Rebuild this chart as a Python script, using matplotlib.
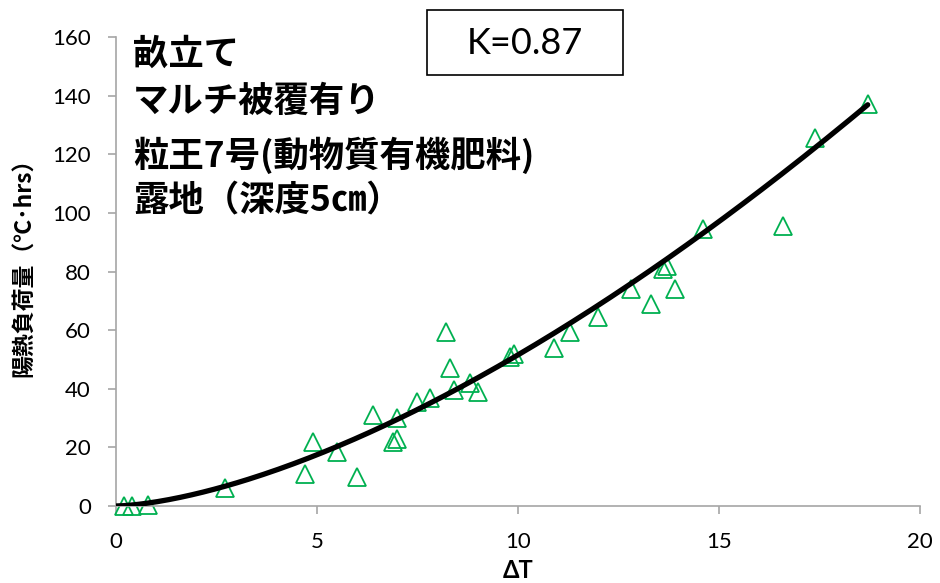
import numpy as np
import matplotlib
matplotlib.use("Agg")
import matplotlib.pyplot as plt
from matplotlib.patches import Rectangle

plt.rcParams['font.family'] = ['Lato', 'Noto Sans CJK JP', 'DejaVu Sans']

# Data
delta_t = [0.2, 0.4, 0.8, 2.7, 4.7, 4.9, 5.5, 6.0, 6.4, 6.9, 7.0, 7.0,
           7.5, 7.8, 8.2, 8.3, 8.4, 8.8, 9.0, 9.8, 9.9, 10.9, 11.3, 12.0,
           12.8, 13.3, 13.6, 13.7, 13.9, 14.6, 16.6, 17.4, 18.7]
heat_load = [0, 0, 0.3, 6, 11, 22, 18.5, 10, 31, 22, 23, 30,
             35.5, 37, 59.5, 47, 39.5, 42, 39, 51, 52, 54, 59.5, 64.5,
             74, 69, 81, 82, 74, 94.5, 95.5, 125.5, 137]

# trendline (power curve)
fit_coef = 1.42
fit_exp = 1.56
fit_x_max = 18.7

x_ticks = [0, 5, 10, 15, 20]
y_ticks = [0, 20, 40, 60, 80, 100, 120, 140, 160]

condition_lines = ["畝立て", "マルチ被覆有り", "粒王7号(動物質有機肥料)", "露地（深度5㎝）"]
k_label = "K=0.87"

fig = plt.figure(figsize=(9.4, 5.83), dpi=100)
ax = fig.add_axes([0.1234, 0.1321, 0.8553, 0.8044])

xs = np.linspace(0, fit_x_max, 200)
ax.plot(xs, fit_coef * xs ** fit_exp, color="black", linewidth=3.8,
        solid_capstyle="round", zorder=3)

ax.plot(delta_t, heat_load, linestyle="none", marker="^", markersize=13,
        markerfacecolor="none", markeredgecolor="#00B050",
        markeredgewidth=1.3, clip_on=False, zorder=2)

ax.set_xlim(0, 20)
ax.set_ylim(0, 160)
ax.set_xticks(x_ticks)
ax.set_yticks(y_ticks)

for side in ["top", "right"]:
    ax.spines[side].set_visible(False)
for side in ["left", "bottom"]:
    ax.spines[side].set_color("#A6A6A6")
    ax.spines[side].set_linewidth(1.2)
ax.tick_params(axis="both", direction="out", length=6, width=1.2,
               color="#A6A6A6", labelsize=16, labelcolor="black")
ax.tick_params(axis="y", pad=12)
ax.tick_params(axis="x", pad=13)

# axis titles placed in figure coordinates
fig.text(25 / 940, 1 - 262 / 583, "陽熱負荷量（℃･hrs）", fontsize=16.5,
         fontweight="bold", family=['Noto Sans CJK JP', 'DejaVu Sans'],
         rotation=90, ha="center", va="center")
fig.text(518 / 940, 1 - 570 / 583, "ΔT", fontsize=17, fontweight="bold",
         ha="center", va="center")

# condition text in the upper left
line_y = [54, 101, 155, 201]
for txt, py in zip(condition_lines, line_y):
    fig.text(133 / 940, 1 - py / 583, txt, fontsize=25.5, fontweight="bold",
             family=['Noto Sans CJK JP', 'DejaVu Sans'],
             ha="left", va="center")

# K value box
fig.patches.append(Rectangle((427 / 940, 1 - 75 / 583), 196 / 940, 65 / 583,
                             transform=fig.transFigure, fill=False,
                             edgecolor="black", linewidth=1.2))
fig.text(525 / 940, 1 - 44 / 583, k_label, fontsize=26,
         ha="center", va="center")

fig.savefig("out.png", dpi=100)
